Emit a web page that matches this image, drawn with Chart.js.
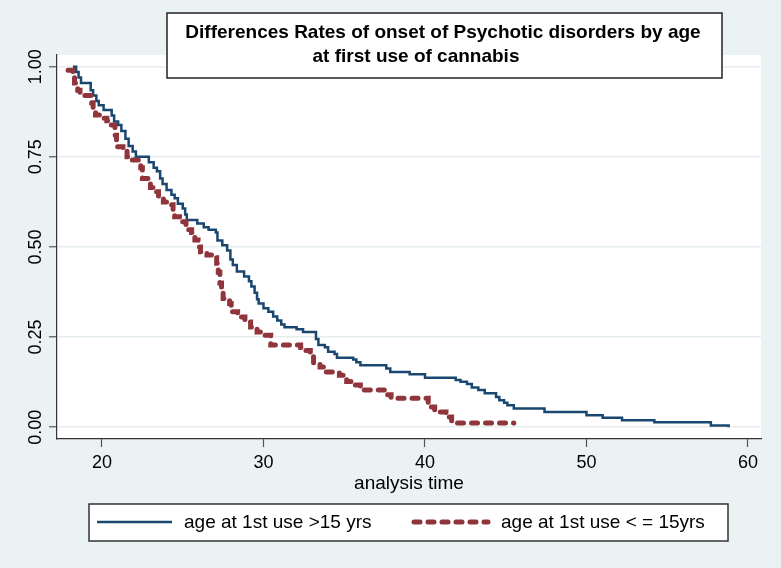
<!DOCTYPE html>
<html>
<head>
<meta charset="utf-8">
<script src="https://cdn.jsdelivr.net/npm/chart.js@4.4.1/dist/chart.umd.min.js"></script>
<style>
  body { margin: 0; background: #EAF2F3; }
  #wrap { width: 781px; height: 568px; position: relative; }
</style>
</head>
<body>
<div id="wrap"><canvas id="kmChart"></canvas></div>
<script>
// Kaplan-Meier estimates (time, survival after the drop)
var olderTimes = [18.2, 18.4, 18.55, 18.7, 19.3, 19.45, 19.65, 19.8, 20.1, 20.6, 20.75, 21.0, 21.2, 21.45, 21.65, 21.9, 22.1,
  22.9, 23.2, 23.4, 23.6, 23.75, 24.0, 24.3, 24.5, 24.7, 25.0, 25.15, 25.25, 25.9, 26.3, 26.6, 27.05, 27.15, 27.45, 27.75,
  27.95, 28.1, 28.35, 28.8, 29.1, 29.25, 29.45, 29.6, 29.7, 30.0, 30.3, 30.6, 30.85, 31.1, 31.3, 32.05, 32.45, 33.25, 33.4,
  33.8, 34.0, 34.4, 34.55, 35.55, 35.75, 36.0, 37.6, 37.85, 39.05, 40.0, 41.9, 42.2, 42.6, 42.9, 43.3, 43.7, 44.4, 44.6,
  44.9, 45.1, 45.5, 47.4, 50.0, 51.0, 52.2, 54.2, 57.7, 58.8];
var olderSurv = [1.0, 0.985, 0.97, 0.955, 0.935, 0.92, 0.905, 0.893, 0.88, 0.865, 0.848, 0.838, 0.822, 0.80, 0.78, 0.765, 0.75,
  0.735, 0.72, 0.71, 0.69, 0.675, 0.658, 0.645, 0.635, 0.62, 0.607, 0.59, 0.575, 0.565, 0.555, 0.548, 0.54, 0.518, 0.505, 0.49,
  0.465, 0.45, 0.432, 0.418, 0.405, 0.39, 0.373, 0.355, 0.343, 0.33, 0.32, 0.307, 0.296, 0.285, 0.277, 0.272, 0.264, 0.245, 0.228,
  0.222, 0.209, 0.203, 0.193, 0.188, 0.18, 0.172, 0.163, 0.153, 0.147, 0.137, 0.131, 0.126, 0.12, 0.11, 0.103, 0.094, 0.084, 0.075,
  0.068, 0.061, 0.052, 0.042, 0.033, 0.026, 0.019, 0.014, 0.005, 0.0];

var youngerTimes = [17.9, 18.2, 18.3, 18.5, 18.64, 19.36, 19.45, 19.6, 20.0, 20.3, 20.5, 20.8, 20.9, 21.3, 21.55, 21.7, 22.4,
  22.5, 22.85, 23.0, 23.2, 23.5, 23.8, 24.3, 24.4, 24.5, 24.8, 25.2, 25.55, 25.75, 25.95, 26.1, 26.5, 27.0, 27.1, 27.2, 27.3,
  27.4, 27.5, 27.9, 28.0, 28.4, 28.85, 29.2, 29.6, 29.9, 30.45, 32.3, 32.6, 32.9, 33.1, 33.5, 33.8, 34.7, 35.15, 35.55, 36.0,
  37.6, 37.9, 40.2, 40.35, 40.6, 41.3, 41.65, 45.5];
var youngerSurv = [0.99, 0.985, 0.955, 0.935, 0.92, 0.90, 0.877, 0.866, 0.857, 0.85, 0.838, 0.81, 0.778, 0.772, 0.75, 0.741, 0.72,
  0.69, 0.676, 0.665, 0.653, 0.64, 0.625, 0.617, 0.60, 0.584, 0.57, 0.548, 0.54, 0.519, 0.50, 0.487, 0.478, 0.47, 0.455, 0.43, 0.40,
  0.38, 0.357, 0.343, 0.32, 0.306, 0.292, 0.278, 0.264, 0.255, 0.228, 0.221, 0.213, 0.20, 0.175, 0.167, 0.153, 0.144, 0.127, 0.117, 0.103,
  0.09, 0.08, 0.067, 0.056, 0.042, 0.028, 0.012, 0.012];

var xTicks = [20, 30, 40, 50, 60];
var yTicks = [0, 0.25, 0.5, 0.75, 1];
var seriesNames = ['age at 1st use >15 yrs', 'age at 1st use < = 15yrs'];
var titleLines = ['Differences Rates of onset of Psychotic disorders by age', 'at first use of cannabis'];
var xTitle = 'analysis time';

var FONT = '"Liberation Sans", Arial, Helvetica, sans-serif';
var NAVY = '#1A476F';
var MAROON = '#90353B';

function toPoints(t, s) {
  return t.map(function (v, i) { return { x: v, y: s[i] }; });
}

var stataPlugin = {
  id: 'stataLook',
  beforeDraw: function (chart) {
    var c = chart.ctx, a = chart.chartArea;
    c.save();
    c.fillStyle = '#EAF2F3';
    c.fillRect(0, 0, chart.width, chart.height);
    c.fillStyle = '#FFFFFF';
    c.fillRect(a.left, a.top, a.right - a.left, a.bottom - a.top);
    c.restore();
  },
  afterDraw: function (chart) {
    var c = chart.ctx, a = chart.chartArea, ys = chart.scales.y;
    var ds = chart.data.datasets;
    c.save();
    c.fillStyle = '#000';

    // rotated y tick labels
    c.font = '18px ' + FONT;
    c.textAlign = 'center';
    c.textBaseline = 'middle';
    yTicks.forEach(function (v) {
      c.save();
      c.translate(36, ys.getPixelForValue(v));
      c.rotate(-Math.PI / 2);
      c.fillText(v.toFixed(2), 0, 0);
      c.restore();
    });

    // x axis title
    c.font = '19px ' + FONT;
    c.fillText(xTitle, (a.left + a.right) / 2, 484);

    // title box
    c.fillStyle = '#FFFFFF';
    c.fillRect(167, 13, 555, 65);
    c.strokeStyle = '#222';
    c.lineWidth = 1.5;
    c.strokeRect(167, 13, 555, 65);
    c.fillStyle = '#000';
    c.font = 'bold 19px ' + FONT;
    c.fillText(titleLines[0], 443, 33);
    c.fillText(titleLines[1], 416, 57);

    // legend box
    c.fillStyle = '#FFFFFF';
    c.fillRect(89, 504, 639, 37);
    c.strokeStyle = '#333';
    c.strokeRect(89, 504, 639, 37);
    var items = [{ x0: 97, x1: 172, tx: 184 }, { x0: 414, x1: 488, tx: 501 }];
    [ds[0], ds[1]].forEach(function (d, i) {
      var it = items[i];
      c.beginPath();
      c.strokeStyle = d.borderColor;
      c.lineWidth = d.borderWidth;
      c.lineCap = d.borderCapStyle || 'butt';
      c.setLineDash(d.borderDash || []);
      c.moveTo(it.x0, 522);
      c.lineTo(it.x1, 522);
      c.stroke();
      c.setLineDash([]);
      c.fillStyle = '#000';
      c.font = '19px ' + FONT;
      c.textAlign = 'left';
      c.fillText(d.label, it.tx, 523);
    });
    c.restore();
  }
};

var ctx = document.getElementById('kmChart').getContext('2d');
var kmChart = new Chart(ctx, {
  type: 'line',
  data: {
    datasets: [{
      label: seriesNames[0],
      data: toPoints(olderTimes, olderSurv),
      borderColor: NAVY,
      borderWidth: 2.5,
      stepped: true,
      pointRadius: 0,
      fill: false,
      order: 1
    }, {
      label: seriesNames[1],
      data: toPoints(youngerTimes, youngerSurv),
      borderColor: MAROON,
      borderWidth: 5,
      borderDash: [6, 8],
      borderCapStyle: 'round',
      stepped: true,
      pointRadius: 0,
      fill: false,
      order: 0
    }]
  },
  options: {
    responsive: true,
    maintainAspectRatio: false,
    animation: false,
    layout: { padding: { left: 0, top: 55, right: 20, bottom: 0 } },
    plugins: { legend: { display: false }, tooltip: { enabled: false } },
    scales: {
      x: {
        type: 'linear',
        min: 17.214,
        max: 60.805,
        afterBuildTicks: function (s) { s.ticks = xTicks.map(function (v) { return { value: v }; }); },
        afterFit: function (s) { s.height = 129; },
        ticks: { color: '#000', font: { family: FONT, size: 18 }, padding: 5, maxRotation: 0 },
        grid: { drawOnChartArea: false, drawTicks: true, tickLength: 8, tickColor: '#555', tickWidth: 1.2 },
        border: { display: true, color: '#333', width: 1.2 }
      },
      y: {
        type: 'linear',
        min: -0.0327,
        max: 1.0325,
        afterBuildTicks: function (s) { s.ticks = yTicks.map(function (v) { return { value: v }; }); },
        afterFit: function (s) { s.width = 57; },
        ticks: { display: false },
        grid: { color: '#E6EEF0', lineWidth: 1.5, drawTicks: true, tickLength: 8, tickColor: '#555', tickWidth: 1.2 },
        border: { display: true, color: '#333', width: 1.2 }
      }
    }
  },
  plugins: [stataPlugin]
});
</script>
</body>
</html>
